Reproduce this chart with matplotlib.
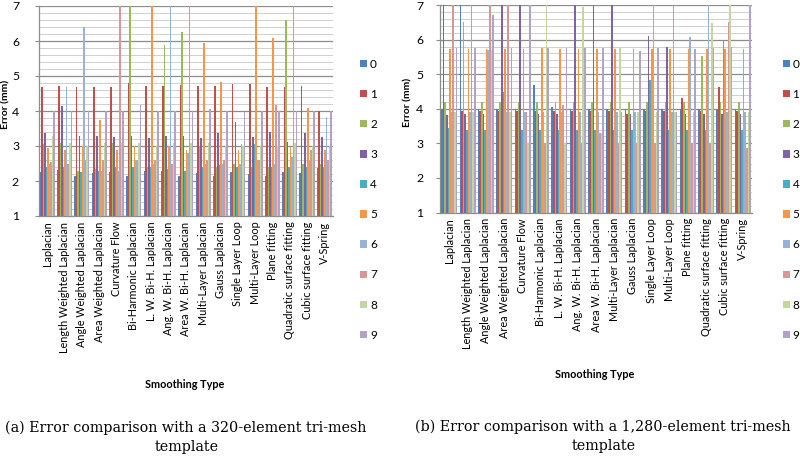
"""Error comparison of smoothing types for two tri-mesh templates.

Draws two clustered bar charts side by side, one per template, and saves out.png.
"""

import numpy as np
import matplotlib
matplotlib.use('Agg')
import matplotlib.pyplot as plt
from matplotlib.ticker import MultipleLocator

CATEGORIES = ["Laplacian", "Length Weighted Laplacian", "Angle Weighted Laplacian",
              "Area Weighted Laplacian", "Curvature Flow", "Bi-Harmonic Laplacian",
              "L. W. Bi-H. Laplacian", "Ang. W. Bi-H. Laplacian", "Area W. Bi-H. Laplacian",
              "Multi-Layer Laplacian", "Gauss Laplacian", "Single Layer Loop",
              "Multi-Layer Loop", "Plane fitting", "Quadratic surface fitting",
              "Cubic surface fitting", "V-Spring"]

SERIES = ["0", "1", "2", "3", "4", "5", "6", "7", "8", "9"]

# (a) 320-element template, one list per series (values in mm, axis clipped at 7)
a_s0 = [2.27, 2.31, 2.15, 2.22, 2.25, 2.15, 2.30, 2.30, 2.15, 2.24, 2.15, 2.27, 2.20, 2.15, 2.27, 2.22, 2.36]
a_s1 = [4.69, 4.71, 4.70, 4.70, 4.70, 4.79, 4.71, 4.72, 4.75, 4.71, 4.71, 4.77, 4.77, 4.70, 4.70, 4.71, 4.00]
a_s2 = [3.05, 3.10, 2.30, 2.35, 3.10, 7.00, 2.40, 5.89, 6.26, 3.00, 2.40, 2.50, 2.40, 2.40, 6.60, 2.50, 2.50]
a_s3 = [3.38, 4.14, 3.30, 3.30, 3.26, 3.30, 3.22, 3.30, 3.30, 3.24, 3.37, 3.70, 3.27, 3.40, 3.12, 3.37, 3.27]
a_s4 = [2.40, 2.40, 2.25, 2.30, 2.40, 2.40, 2.40, 2.35, 2.30, 2.40, 2.45, 2.40, 3.07, 2.40, 2.40, 2.40, 2.40]
a_s5 = [2.95, 2.90, 3.00, 3.75, 2.90, 3.00, 7.00, 3.00, 2.90, 5.94, 4.83, 2.90, 7.00, 6.08, 2.96, 4.09, 2.90]
a_s6 = [2.50, 4.69, 6.41, 2.30, 2.30, 2.60, 2.50, 7.00, 2.80, 2.50, 2.50, 2.50, 2.60, 2.50, 2.70, 2.60, 3.83]
a_s7 = [2.55, 2.50, 2.60, 2.60, 7.00, 2.60, 2.60, 2.50, 7.00, 2.60, 2.60, 3.05, 2.60, 4.17, 7.00, 2.90, 2.60]
a_s8 = [3.30, 3.10, 3.00, 3.10, 3.10, 3.09, 3.00, 3.10, 3.10, 3.10, 3.00, 3.00, 3.00, 3.00, 3.10, 3.00, 3.00]
a_s9 = [4.00, 4.00, 4.00, 4.00, 4.00, 4.17, 4.00, 4.00, 4.00, 4.06, 4.00, 3.98, 4.00, 4.00, 4.00, 4.00, 4.00]

# (b) 1,280-element template
b_s0 = [4.00, 7.00, 4.00, 4.00, 4.00, 4.68, 4.05, 4.00, 4.00, 4.00, 4.00, 4.00, 4.00, 4.00, 4.00, 4.00, 4.00]
b_s1 = [7.00, 3.93, 3.93, 3.93, 3.93, 3.93, 3.93, 3.93, 3.93, 3.93, 3.85, 3.93, 3.93, 4.30, 3.93, 4.62, 3.93]
b_s2 = [4.20, 6.52, 4.20, 4.20, 4.20, 4.20, 4.20, 4.20, 4.20, 4.20, 4.20, 4.20, 4.20, 4.20, 5.52, 4.20, 4.20]
b_s3 = [3.82, 3.85, 3.85, 7.00, 7.00, 3.85, 3.85, 7.00, 7.00, 7.00, 3.85, 6.10, 5.79, 3.85, 3.85, 3.85, 3.85]
b_s4 = [3.43, 3.40, 3.40, 4.47, 3.40, 3.40, 3.40, 3.40, 3.40, 3.40, 3.40, 4.84, 3.40, 3.40, 3.40, 5.97, 3.40]
b_s5 = [5.72, 5.72, 5.72, 5.72, 5.72, 5.75, 5.72, 5.72, 5.72, 5.72, 5.72, 5.72, 5.72, 5.72, 5.72, 5.72, 5.72]
b_s6 = [3.90, 3.90, 5.70, 3.90, 3.90, 3.90, 3.90, 3.90, 3.90, 3.90, 3.90, 7.00, 3.90, 6.07, 7.00, 3.90, 3.90]
b_s7 = [7.00, 7.00, 7.00, 7.00, 3.90, 3.00, 4.10, 3.00, 3.30, 3.00, 3.00, 3.00, 7.00, 3.00, 3.00, 6.52, 2.86]
b_s8 = [3.90, 3.90, 5.70, 3.90, 3.00, 7.00, 3.00, 6.95, 3.30, 5.75, 3.90, 3.90, 3.90, 3.90, 6.47, 7.00, 3.90]
b_s9 = [5.75, 5.75, 6.70, 5.75, 7.00, 5.75, 5.75, 5.75, 5.75, 3.90, 5.68, 5.75, 3.90, 5.72, 5.75, 5.79, 7.00]

COLORS = ['#4F81BD', '#C0504D', '#9BBB59', '#8064A2', '#4BACC6',
          '#F79646', '#95B3D7', '#D99694', '#C3D69B', '#B3A2C7']

FONT = 'Lato'
FIG_W, FIG_H = 800, 459


def draw_panel(fig, px_box, series, ylabel_xy, tick_pad, legend_x):
    left, top, right, bottom = px_box
    rect = [left / FIG_W, 1 - bottom / FIG_H, (right - left) / FIG_W, (bottom - top) / FIG_H]
    ax = fig.add_axes(rect)
    x = np.arange(len(CATEGORIES))
    w = 1.0 / 11.5
    for k, vals in enumerate(series):
        ax.bar(x + (k - 4.5) * w, np.array(vals) - 1, width=w, bottom=1,
               color=COLORS[k], linewidth=0, label=SERIES[k], zorder=3)

    ax.set_xlim(-0.5, len(CATEGORIES) - 0.5)
    ax.set_ylim(1, 7)
    ax.yaxis.set_major_locator(MultipleLocator(1))
    ax.yaxis.set_minor_locator(MultipleLocator(0.2))
    ax.grid(which='major', axis='y', color='#8C8C8C', lw=0.9, zorder=0)
    ax.grid(which='minor', axis='y', color='#C8C8C8', lw=0.6, zorder=0)
    ax.set_axisbelow(True)

    for side in ('top', 'right'):
        ax.spines[side].set_visible(False)
    for side in ('left', 'bottom'):
        ax.spines[side].set_color('#8C8C8C')
        ax.spines[side].set_linewidth(0.9)

    ax.set_xticks(x)
    ax.set_xticklabels(CATEGORIES, rotation=90, fontsize=7.8, family=FONT)
    ax.tick_params(axis='x', length=0, pad=4)
    ax.tick_params(axis='y', which='major', length=3, color='#8C8C8C',
                   pad=tick_pad, labelsize=8.8)
    ax.tick_params(axis='y', which='minor', length=0)
    for t in ax.get_yticklabels():
        t.set_family(FONT)

    # y title, placed in figure pixels
    ax.set_ylabel('Error (mm)', fontsize=7.5, fontweight='bold', family=FONT)
    ax.yaxis.set_label_coords(ylabel_xy[0] / FIG_W, 1 - ylabel_xy[1] / FIG_H,
                              transform=fig.transFigure)
    ax.yaxis.label.set_verticalalignment('center')

    ax.legend(loc='center left', bbox_to_anchor=(legend_x, 0.565),
              bbox_transform=fig.transFigure, frameon=False,
              handlelength=0.6, handleheight=0.6, handletextpad=0.25,
              labelspacing=1.62, borderpad=0, borderaxespad=0,
              prop={'family': FONT, 'size': 8.5})
    return ax


def main():
    fig = plt.figure(figsize=(FIG_W / 100, FIG_H / 100), dpi=100)
    fig.patch.set_facecolor('white')

    series_a = [a_s0, a_s1, a_s2, a_s3, a_s4, a_s5, a_s6, a_s7, a_s8, a_s9]
    series_b = [b_s0, b_s1, b_s2, b_s3, b_s4, b_s5, b_s6, b_s7, b_s8, b_s9]

    draw_panel(fig, (38.5, 6, 333, 216), series_a, (6, 104), 11, 360 / FIG_W)
    draw_panel(fig, (440, 5, 752, 212.5), series_b, (408, 102), 9, 782.5 / FIG_W)

    # axis titles under the rotated category labels
    fig.text(185 / FIG_W, 1 - 384 / FIG_H, 'Smoothing Type', ha='center', va='center',
             fontsize=7.8, fontweight='bold', family=FONT)
    fig.text(595 / FIG_W, 1 - 375 / FIG_H, 'Smoothing Type', ha='center', va='center',
             fontsize=7.8, fontweight='bold', family=FONT)

    # captions
    cap = dict(ha='center', va='center', fontsize=10.3, family='DejaVu Serif')
    fig.text(186 / FIG_W, 1 - 428 / FIG_H, '(a) Error comparison with a 320-element tri-mesh', **cap)
    fig.text(187 / FIG_W, 1 - 447 / FIG_H, 'template', **cap)
    fig.text(603 / FIG_W, 1 - 427 / FIG_H, '(b) Error comparison with a 1,280-element tri-mesh', **cap)
    fig.text(604 / FIG_W, 1 - 446 / FIG_H, 'template', **cap)

    fig.savefig('out.png', dpi=100, facecolor='white')
    print('[OK] Saved out.png')


if __name__ == '__main__':
    main()
